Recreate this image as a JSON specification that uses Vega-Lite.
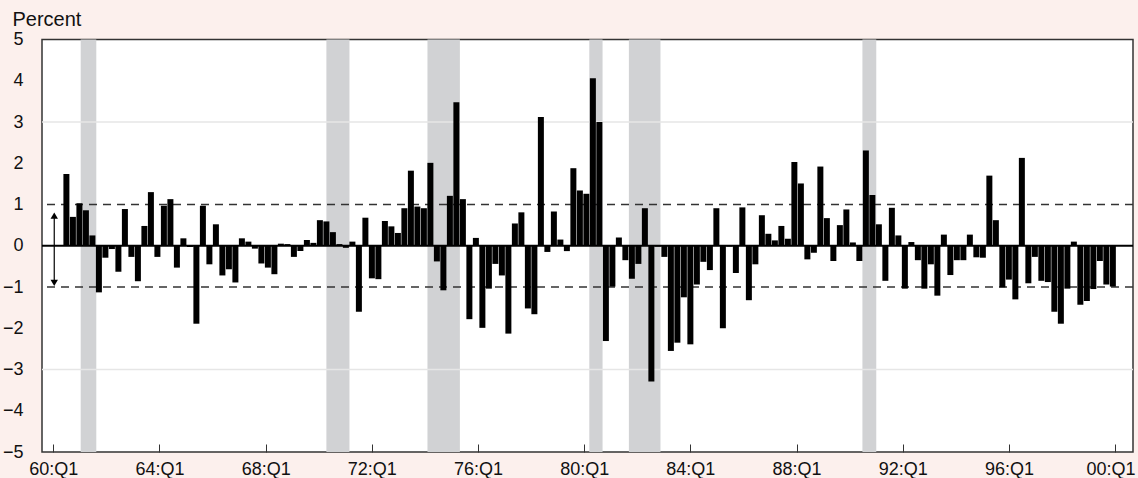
{
  "$schema": "https://vega.github.io/schema/vega-lite/v6.json",
  "width": 1091,
  "height": 412.5,
  "autosize": {"type": "none"},
  "padding": {"left": 42, "top": 39.5, "right": 5, "bottom": 26},
  "background": "#fcf0ed",
  "config": {
    "view": {"fill": "#ffffff", "stroke": "#333333", "strokeWidth": 1.5},
    "font": "Liberation Sans",
    "axis": {"labelFont": "Liberation Sans", "titleFont": "Liberation Sans", "labelColor": "#111111", "titleColor": "#111111"}
  },
  "datasets": {
    "bars": [
      {"k":0,"v":1.74},{"k":1,"v":0.70},{"k":2,"v":1.03},{"k":3,"v":0.86},{"k":4,"v":0.25},{"k":5,"v":-1.13},{"k":6,"v":-0.29},{"k":7,"v":-0.08},{"k":8,"v":-0.63},{"k":9,"v":0.89},
      {"k":10,"v":-0.27},{"k":11,"v":-0.86},{"k":12,"v":0.48},{"k":13,"v":1.30},{"k":14,"v":-0.27},{"k":15,"v":0.97},{"k":16,"v":1.13},{"k":17,"v":-0.53},{"k":18,"v":0.18},{"k":19,"v":-0.03},
      {"k":20,"v":-1.89},{"k":21,"v":0.97},{"k":22,"v":-0.45},{"k":23,"v":0.52},{"k":24,"v":-0.72},{"k":25,"v":-0.57},{"k":26,"v":-0.89},{"k":27,"v":0.18},{"k":28,"v":0.10},{"k":29,"v":-0.07},
      {"k":30,"v":-0.43},{"k":31,"v":-0.53},{"k":32,"v":-0.69},{"k":33,"v":0.05},{"k":34,"v":0.04},{"k":35,"v":-0.27},{"k":36,"v":-0.13},{"k":37,"v":0.14},{"k":38,"v":0.07},{"k":39,"v":0.62},
      {"k":40,"v":0.59},{"k":41,"v":0.33},{"k":42,"v":0.04},{"k":43,"v":-0.05},{"k":44,"v":0.10},{"k":45,"v":-1.60},{"k":46,"v":0.68},{"k":47,"v":-0.79},{"k":48,"v":-0.81},{"k":49,"v":0.60},
      {"k":50,"v":0.47},{"k":51,"v":0.31},{"k":52,"v":0.91},{"k":53,"v":1.82},{"k":54,"v":0.95},{"k":55,"v":0.91},{"k":56,"v":2.01},{"k":57,"v":-0.38},{"k":58,"v":-1.08},{"k":59,"v":1.21},
      {"k":60,"v":3.48},{"k":61,"v":1.13},{"k":62,"v":-1.78},{"k":63,"v":0.19},{"k":64,"v":-1.99},{"k":65,"v":-1.04},{"k":66,"v":-0.44},{"k":67,"v":-0.72},{"k":68,"v":-2.13},{"k":69,"v":0.54},
      {"k":70,"v":0.81},{"k":71,"v":-1.52},{"k":72,"v":-1.66},{"k":73,"v":3.12},{"k":74,"v":-0.15},{"k":75,"v":0.83},{"k":76,"v":0.15},{"k":77,"v":-0.13},{"k":78,"v":1.88},{"k":79,"v":1.34},
      {"k":80,"v":1.26},{"k":81,"v":4.06},{"k":82,"v":3.00},{"k":83,"v":-2.31},{"k":84,"v":-0.99},{"k":85,"v":0.20},{"k":86,"v":-0.35},{"k":87,"v":-0.80},{"k":88,"v":-0.44},{"k":89,"v":0.91},
      {"k":90,"v":-3.29},{"k":91,"v":-0.02},{"k":92,"v":-0.27},{"k":93,"v":-2.55},{"k":94,"v":-2.35},{"k":95,"v":-1.25},{"k":96,"v":-2.39},{"k":97,"v":-0.94},{"k":98,"v":-0.39},{"k":99,"v":-0.59},
      {"k":100,"v":0.91},{"k":101,"v":-2.00},{"k":102,"v":-0.02},{"k":103,"v":-0.66},{"k":104,"v":0.93},{"k":105,"v":-1.32},{"k":106,"v":-0.45},{"k":107,"v":0.74},{"k":108,"v":0.29},{"k":109,"v":0.13},
      {"k":110,"v":0.48},{"k":111,"v":0.17},{"k":112,"v":2.03},{"k":113,"v":1.51},{"k":114,"v":-0.33},{"k":115,"v":-0.17},{"k":116,"v":1.92},{"k":117,"v":0.67},{"k":118,"v":-0.37},{"k":119,"v":0.50},
      {"k":120,"v":0.88},{"k":121,"v":0.08},{"k":122,"v":-0.37},{"k":123,"v":2.31},{"k":124,"v":1.23},{"k":125,"v":0.52},{"k":126,"v":-0.85},{"k":127,"v":0.92},{"k":128,"v":0.25},{"k":129,"v":-1.04},
      {"k":130,"v":0.09},{"k":131,"v":-0.35},{"k":132,"v":-1.04},{"k":133,"v":-0.45},{"k":134,"v":-1.21},{"k":135,"v":0.27},{"k":136,"v":-0.71},{"k":137,"v":-0.35},{"k":138,"v":-0.35},{"k":139,"v":0.27},
      {"k":140,"v":-0.28},{"k":141,"v":-0.29},{"k":142,"v":1.70},{"k":143,"v":0.62},{"k":144,"v":-1.01},{"k":145,"v":-0.82},{"k":146,"v":-1.30},{"k":147,"v":2.13},{"k":148,"v":-0.91},{"k":149,"v":-0.27},
      {"k":150,"v":-0.85},{"k":151,"v":-0.88},{"k":152,"v":-1.60},{"k":153,"v":-1.89},{"k":154,"v":-1.04},{"k":155,"v":0.10},{"k":156,"v":-1.43},{"k":157,"v":-1.34},{"k":158,"v":-1.05},{"k":159,"v":-0.37},
      {"k":160,"v":-0.94},{"k":161,"v":-0.99}
    ],
    "bands": [
      {"start": 2.2, "end": 4.6},
      {"start": 40.0, "end": 43.55},
      {"start": 55.55, "end": 60.54},
      {"start": 80.45, "end": 82.49},
      {"start": 86.54, "end": 91.4},
      {"start": 122.47, "end": 124.6}
    ]
  },
  "layer": [
    {
      "layer": [
        {
          "data": {"name": "bars"},
          "mark": {"type": "bar", "color": "#000000", "width": 6.0, "opacity": 0},
          "encoding": {
            "x": {"field": "k", "type": "quantitative", "scale": {"domain": [-2.985, 163.33], "nice": false, "zero": false}, "axis": null},
            "y": {
              "field": "v", "type": "quantitative",
              "scale": {"domain": [-5, 5], "nice": false},
              "axis": {
                "values": [-5, -4, -3, -2, -1, 0, 1, 2, 3, 4, 5],
                "grid": false, "domain": false, "ticks": false,
                "labelFontSize": 18, "labelPadding": 19,
                "title": "Percent", "titleAngle": 0, "titleAlign": "left", "titleBaseline": "alphabetic",
                "titleX": -30, "titleY": -14, "titleFontSize": 20, "titleFontWeight": "normal"
              }
            }
          }
        },
        {
          "data": {"name": "bands"},
          "mark": {"type": "rect", "color": "#d1d2d4"},
          "encoding": {
            "x": {"field": "start", "type": "quantitative", "scale": {"domain": [-2.985, 163.33], "nice": false, "zero": false}, "axis": null},
            "x2": {"field": "end"}
          }
        },
        {
          "data": {"values": [{"v": 3}, {"v": -3}]},
          "mark": {"type": "rule", "color": "#e6e6e6", "strokeWidth": 1.5},
          "encoding": {
            "y": {"field": "v", "type": "quantitative", "scale": {"domain": [-5, 5], "nice": false}, "title": "Percent"}
          }
        },
        {
          "data": {"values": [{"v": 1}, {"v": -1}]},
          "mark": {"type": "rule", "color": "#333333", "strokeWidth": 1.3, "strokeDash": [8, 6]},
          "encoding": {
            "y": {"field": "v", "type": "quantitative", "scale": {"domain": [-5, 5], "nice": false}, "title": "Percent"}
          }
        },
        {
          "data": {"name": "bars"},
          "mark": {"type": "bar", "color": "#000000", "width": 6.0},
          "encoding": {
            "x": {"field": "k", "type": "quantitative", "scale": {"domain": [-2.985, 163.33], "nice": false, "zero": false}, "axis": null},
            "y": {"field": "v", "type": "quantitative", "scale": {"domain": [-5, 5], "nice": false}, "title": "Percent"}
          }
        },
        {
          "data": {"values": [{"v": 0}]},
          "mark": {"type": "rule", "color": "#000000", "strokeWidth": 2},
          "encoding": {
            "y": {"field": "v", "type": "quantitative", "scale": {"domain": [-5, 5], "nice": false}, "title": "Percent"}
          }
        },
        {
          "data": {"values": [{"x": -1.87, "lo": -0.85, "hi": 0.7}]},
          "mark": {"type": "rule", "color": "#000000", "strokeWidth": 1.2},
          "encoding": {
            "x": {"field": "x", "type": "quantitative", "scale": {"domain": [-2.985, 163.33], "nice": false, "zero": false}, "axis": null},
            "y": {"field": "lo", "type": "quantitative", "scale": {"domain": [-5, 5], "nice": false}, "title": "Percent"},
            "y2": {"field": "hi"}
          }
        },
        {
          "data": {"values": [{"x": -1.87, "y": 0.73, "s": "triangle-up"}, {"x": -1.87, "y": -0.9, "s": "triangle-down"}]},
          "mark": {"type": "point", "filled": true, "color": "#000000", "size": 55, "opacity": 1},
          "encoding": {
            "x": {"field": "x", "type": "quantitative", "scale": {"domain": [-2.985, 163.33], "nice": false, "zero": false}, "axis": null},
            "y": {"field": "y", "type": "quantitative", "scale": {"domain": [-5, 5], "nice": false}, "title": "Percent"},
            "shape": {"field": "s", "type": "nominal", "scale": null}
          }
        }
      ]
    },
    {
      "data": {"values": [{"i": 0}, {"i": 16}, {"i": 32}, {"i": 48}, {"i": 64}, {"i": 80}, {"i": 96}, {"i": 112}, {"i": 128}, {"i": 144}, {"i": 160}]},
      "mark": {"type": "rule", "opacity": 0},
      "encoding": {
        "x": {
          "field": "i", "type": "quantitative",
          "scale": {"domain": [-1.70, 162.7], "nice": false, "zero": false},
          "axis": {
            "orient": "bottom", "title": null,
            "values": [0, 16, 32, 48, 64, 80, 96, 112, 128, 144, 160],
            "labelExpr": "format((60 + datum.value / 4) % 100, '02d') + ':Q1'",
            "grid": false, "domain": false, "ticks": true,
            "tickSize": -8, "tickColor": "#333333", "tickWidth": 1,
            "labelFontSize": 18, "labelPadding": 16, "labelFlush": false,
            "labelAlign": {"condition": {"test": "datum.value == 160", "value": "right"}, "value": "center"},
            "labelOffset": {"condition": {"test": "datum.value == 160", "value": 20}, "value": 0}
          }
        }
      }
    }
  ],
  "resolve": {"scale": {"x": "independent"}}
}
